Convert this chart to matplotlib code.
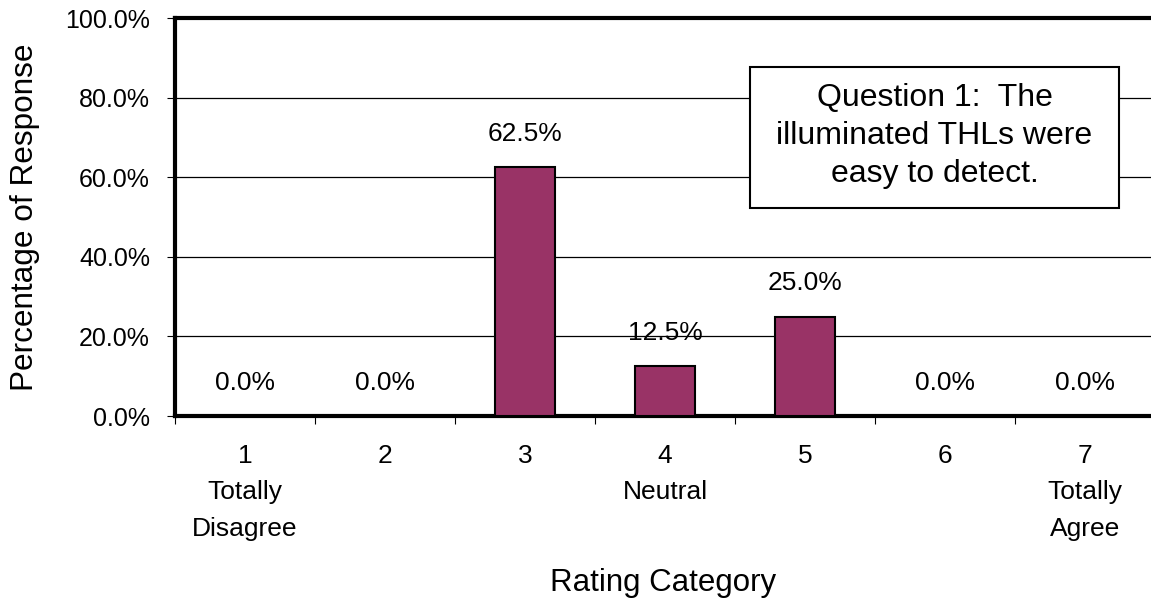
import matplotlib
matplotlib.use("Agg")
import matplotlib.pyplot as plt
from matplotlib.patches import Rectangle
from matplotlib.ticker import FuncFormatter

plt.rcParams['font.family'] = ['Liberation Sans', 'DejaVu Sans']

categories = [1, 2, 3, 4, 5, 6, 7]
tick_labels = ["1\nTotally\nDisagree", "2", "3", "4\nNeutral", "5", "6", "7\nTotally\nAgree"]
percentages = [0.0, 0.0, 62.5, 12.5, 25.0, 0.0, 0.0]
note_text = "Question 1:  The\nilluminated THLs were\neasy to detect."

W, H = 1151, 606
fig = plt.figure(figsize=(W / 100, H / 100), dpi=100)
ax = fig.add_axes([175 / W, 190 / H, 980 / W, 398 / H])

ax.bar(categories, percentages, width=0.43, color="#993366",
       edgecolor="black", linewidth=1.5, zorder=3)

for x, v in zip(categories, percentages):
    ax.annotate(f"{v:.1f}%", (x, v), xytext=(0, 24), textcoords="offset points",
                ha="center", va="center", fontsize=19, zorder=4)

ax.set_xlim(0.5, 7.5)
ax.set_ylim(0, 100)
ax.set_yticks(range(0, 101, 20))
ax.yaxis.set_major_formatter(FuncFormatter(lambda v, p: f"{v:.1f}%"))
ax.yaxis.grid(True, color="black", linewidth=0.9, zorder=0)
ax.set_axisbelow(True)

# category labels sit between the boundary ticks
ax.set_xticks([c - 0.5 for c in categories] + [7.5])
ax.set_xticklabels([])
ax.set_xticks(categories, minor=True)
ax.set_xticklabels(tick_labels, minor=True, fontsize=19, linespacing=1.66, va="top")
ax.tick_params(axis="x", which="minor", length=0, pad=20)
ax.tick_params(axis="x", which="major", length=6, width=0.8, direction="out")
ax.tick_params(axis="y", length=6, width=0.8, labelsize=18, pad=12)

for side in ("left", "top", "bottom"):
    ax.spines[side].set_linewidth(3)
ax.spines["right"].set_visible(False)

ax.set_ylabel("Percentage of Response", fontsize=22.7)
ax.yaxis.set_label_coords(-150 / 980, (416 - 217) / 398)
ax.set_xlabel("Rating Category", fontsize=22.5)
ax.xaxis.set_label_coords((663 - 175) / 980, -(583 - 416) / 398)
ax.xaxis.label.set_va("center")
ax.yaxis.label.set_va("center")

# note box in the upper right of the plot
fig.patches.append(Rectangle((750 / W, 1 - 208 / H), 369 / W, 141 / H,
                             transform=fig.transFigure, facecolor="white",
                             edgecolor="black", linewidth=1.5, zorder=5))
fig.text(934.5 / W, 1 - 136 / H, note_text, ha="center", va="center",
         fontsize=23, linespacing=1.36, multialignment="center", zorder=6)

fig.savefig("out.png", dpi=100)
